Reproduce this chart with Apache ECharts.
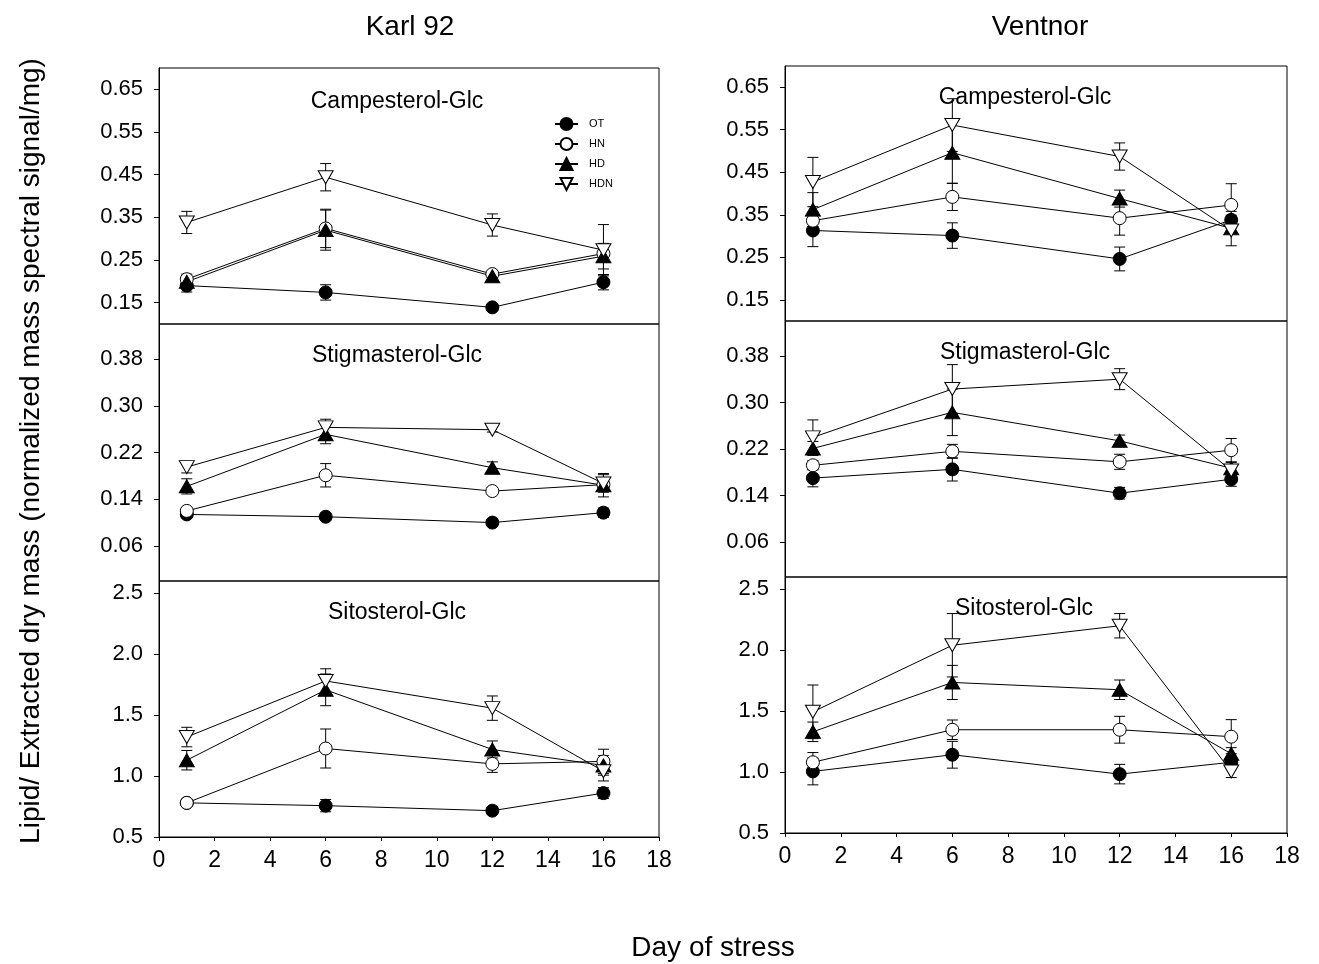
<!DOCTYPE html>
<html>
<head>
<meta charset="utf-8">
<title>Steryl glucosides under stress</title>
<script src="https://cdn.jsdelivr.net/npm/echarts@6/dist/echarts.min.js"></script>
<style>
  html, body { margin: 0; padding: 0; background: #fff; }
  #chart { width: 1319px; height: 964px; }
</style>
</head>
<body>
<div id="chart"></div>
<script>
// ---- data ---------------------------------------------------------------
const days = [1, 6, 12, 16];
const groups = ['OT', 'HN', 'HD', 'HDN'];
const cultivars = ['Karl 92', 'Ventnor'];
const lipids = ['Campesterol-Glc', 'Stigmasterol-Glc', 'Sitosterol-Glc'];

const xTicks = [0, 2, 4, 6, 8, 10, 12, 14, 16, 18];
const campTicks = [0.15, 0.25, 0.35, 0.45, 0.55, 0.65];
const stigTicks = [0.06, 0.14, 0.22, 0.30, 0.38];
const sitoTicks = [0.5, 1.0, 1.5, 2.0, 2.5];

// Karl 92 — Campesterol-Glc (mean, SE)
const campKarlOT = [0.190, 0.174, 0.139, 0.198];
const campKarlOTErr = [0.015, 0.018, 0.006, 0.018];
const campKarlHN = [0.205, 0.324, 0.217, 0.265];
const campKarlHNErr = [0.012, 0.045, 0.008, 0.020];
const campKarlHD = [0.199, 0.320, 0.212, 0.259];
const campKarlHDErr = [0.012, 0.047, 0.010, 0.030];
const campKarlHDN = [0.338, 0.444, 0.332, 0.273];
const campKarlHDNErr = [0.026, 0.032, 0.026, 0.060];

// Ventnor — Campesterol-Glc
const campVentOT = [0.313, 0.301, 0.246, 0.338];
const campVentOTErr = [0.038, 0.030, 0.028, 0.020];
const campVentHN = [0.336, 0.392, 0.342, 0.373];
const campVentHNErr = [0.020, 0.032, 0.040, 0.050];
const campVentHD = [0.362, 0.496, 0.388, 0.318];
const campVentHDErr = [0.040, 0.072, 0.020, 0.012];
const campVentHDN = [0.427, 0.561, 0.487, 0.313];
const campVentHDNErr = [0.058, 0.062, 0.032, 0.036];

// Karl 92 — Stigmasterol-Glc
const stigKarlOT = [0.114, 0.110, 0.100, 0.117];
const stigKarlOTErr = [0.005, 0.006, 0.005, 0.008];
const stigKarlHN = [0.120, 0.181, 0.154, 0.165];
const stigKarlHNErr = [0.006, 0.020, 0.006, 0.010];
const stigKarlHD = [0.162, 0.251, 0.194, 0.164];
const stigKarlHDErr = [0.013, 0.016, 0.010, 0.020];
const stigKarlHDN = [0.195, 0.263, 0.259, 0.167];
const stigKarlHDNErr = [0.010, 0.014, 0.004, 0.015];

// Ventnor — Stigmasterol-Glc
const stigVentOT = [0.170, 0.185, 0.144, 0.168];
const stigVentOTErr = [0.015, 0.020, 0.010, 0.012];
const stigVentHN = [0.192, 0.216, 0.198, 0.218];
const stigVentHNErr = [0.008, 0.012, 0.013, 0.020];
const stigVentHD = [0.221, 0.283, 0.234, 0.187];
const stigVentHDErr = [0.012, 0.040, 0.010, 0.010];
const stigVentHDN = [0.240, 0.323, 0.340, 0.183];
const stigVentHDNErr = [0.030, 0.042, 0.018, 0.010];

// Karl 92 — Sitosterol-Glc
const sitoKarlOT = [0.780, 0.757, 0.716, 0.860];
const sitoKarlOTErr = [0.030, 0.050, 0.030, 0.045];
const sitoKarlHN = [0.780, 1.226, 1.100, 1.120];
const sitoKarlHNErr = [0.020, 0.160, 0.070, 0.100];
const sitoKarlHD = [1.130, 1.707, 1.218, 1.087];
const sitoKarlHDErr = [0.080, 0.130, 0.070, 0.080];
const sitoKarlHDN = [1.320, 1.780, 1.557, 1.040];
const sitoKarlHDNErr = [0.080, 0.100, 0.100, 0.080];

// Ventnor — Sitosterol-Glc
const sitoVentOT = [1.005, 1.142, 0.983, 1.080];
const sitoVentOTErr = [0.110, 0.110, 0.080, 0.030];
const sitoVentHN = [1.080, 1.347, 1.347, 1.290];
const sitoVentHNErr = [0.080, 0.080, 0.110, 0.140];
const sitoVentHD = [1.330, 1.735, 1.675, 1.150];
const sitoVentHDErr = [0.080, 0.140, 0.080, 0.050];
const sitoVentHDN = [1.494, 2.040, 2.200, 1.005];
const sitoVentHDNErr = [0.220, 0.260, 0.100, 0.050];

// ---- layout ----------------------------------------------------------------
const FONT = '"Liberation Sans", Arial, Helvetica, sans-serif';

// one entry per panel: [cultivar, lipid]; frames in px
const panels = [
  { c: 0, l: 0, rect: [159, 68, 500, 256], yMin: 0.10, yMax: 0.70, ticks: campTicks, dec: 2,
    means: [campKarlOT, campKarlHN, campKarlHD, campKarlHDN],
    errs: [campKarlOTErr, campKarlHNErr, campKarlHDErr, campKarlHDNErr], title: [397, 102] },
  { c: 0, l: 1, rect: [159, 324, 500, 257], yMin: 0.00, yMax: 0.44, ticks: stigTicks, dec: 2,
    means: [stigKarlOT, stigKarlHN, stigKarlHD, stigKarlHDN],
    errs: [stigKarlOTErr, stigKarlHNErr, stigKarlHDErr, stigKarlHDNErr], title: [397, 356] },
  { c: 0, l: 2, rect: [159, 581, 500, 256], yMin: 0.5, yMax: 2.6, ticks: sitoTicks, dec: 1,
    means: [sitoKarlOT, sitoKarlHN, sitoKarlHD, sitoKarlHDN],
    errs: [sitoKarlOTErr, sitoKarlHNErr, sitoKarlHDErr, sitoKarlHDNErr], title: [397, 613] },
  { c: 1, l: 0, rect: [785, 66, 502, 255], yMin: 0.10, yMax: 0.70, ticks: campTicks, dec: 2,
    means: [campVentOT, campVentHN, campVentHD, campVentHDN],
    errs: [campVentOTErr, campVentHNErr, campVentHDErr, campVentHDNErr], title: [1025, 98] },
  { c: 1, l: 1, rect: [785, 321, 502, 256], yMin: 0.00, yMax: 0.44, ticks: stigTicks, dec: 2,
    means: [stigVentOT, stigVentHN, stigVentHD, stigVentHDN],
    errs: [stigVentOTErr, stigVentHNErr, stigVentHDErr, stigVentHDNErr], title: [1025, 353] },
  { c: 1, l: 2, rect: [785, 577, 502, 256], yMin: 0.5, yMax: 2.6, ticks: sitoTicks, dec: 1,
    means: [sitoVentOT, sitoVentHN, sitoVentHD, sitoVentHDN],
    errs: [sitoVentOTErr, sitoVentHNErr, sitoVentHDErr, sitoVentHDNErr], title: [1024, 609] }
];

// marker style per treatment
const markers = {
  OT:  { symbol: 'circle',   size: 13,       rotate: 0,   fill: '#000' },
  HN:  { symbol: 'circle',   size: 13,       rotate: 0,   fill: '#fff' },
  HD:  { symbol: 'triangle', size: [15, 13], rotate: 0,   fill: '#000' },
  HDN: { symbol: 'triangle', size: [15, 13], rotate: 180, fill: '#fff' }
};

// vertical error bar with caps
function renderErrorBar(params, api) {
  const x = api.value(0), m = api.value(1), e = api.value(2);
  const hi = api.coord([x, m + e]);
  const lo = api.coord([x, m - e]);
  const w = 5.5;
  const style = { stroke: '#000', lineWidth: 1, fill: null };
  return {
    type: 'group',
    children: [
      { type: 'line', shape: { x1: hi[0], y1: hi[1], x2: lo[0], y2: lo[1] }, style },
      { type: 'line', shape: { x1: hi[0] - w, y1: hi[1], x2: hi[0] + w, y2: hi[1] }, style },
      { type: 'line', shape: { x1: lo[0] - w, y1: lo[1], x2: lo[0] + w, y2: lo[1] }, style }
    ]
  };
}

const grid = [], xAxis = [], yAxis = [], series = [], graphic = [];

panels.forEach((p, i) => {
  const isBottom = p.l === 2;
  grid.push({
    left: p.rect[0], top: p.rect[1], width: p.rect[2], height: p.rect[3],
    show: true, borderColor: '#000', borderWidth: 1, backgroundColor: 'transparent',
    containLabel: false
  });
  xAxis.push({
    gridIndex: i, type: 'value', min: 0, max: 18, interval: 2,
    axisLine: { show: isBottom, onZero: false, lineStyle: { color: '#000', width: 1 } },
    axisTick: { show: isBottom, length: 4, lineStyle: { color: '#000' } },
    axisLabel: { show: isBottom, color: '#000', fontSize: 23, fontFamily: FONT, margin: 12,
                 customValues: xTicks },
    splitLine: { show: false }
  });
  yAxis.push({
    gridIndex: i, type: 'value', min: p.yMin, max: p.yMax,
    axisLine: { show: true, onZero: false, lineStyle: { color: '#000', width: 1 } },
    axisTick: { show: true, length: 5, customValues: p.ticks, lineStyle: { color: '#000' } },
    axisLabel: { color: '#000', fontSize: 22, fontFamily: FONT, margin: 16,
                 customValues: p.ticks, formatter: v => Number(v).toFixed(p.dec) },
    splitLine: { show: false }
  });

  groups.forEach((g, k) => {
    const mk = markers[g];
    series.push({
      type: 'custom', name: g + ' SE', xAxisIndex: i, yAxisIndex: i, z: 1,
      renderItem: renderErrorBar, silent: true,
      encode: { x: 0, y: 1 },
      data: days.map((d, j) => [d, p.means[k][j], p.errs[k][j]])
    });
    series.push({
      type: 'line', name: g, xAxisIndex: i, yAxisIndex: i, z: 3,
      symbol: mk.symbol, symbolSize: mk.size, symbolRotate: mk.rotate,
      showAllSymbol: true,
      lineStyle: { color: '#000', width: 1 },
      itemStyle: { color: mk.fill, borderColor: '#000', borderWidth: 1 },
      emphasis: { disabled: true },
      data: days.map((d, j) => [d, p.means[k][j]])
    });
  });

  graphic.push({
    type: 'text', x: p.title[0], y: p.title[1], z: 5,
    style: { text: lipids[p.l], font: '23px ' + FONT, fill: '#000',
             align: 'center', verticalAlign: 'middle',
             textAlign: 'center', textVerticalAlign: 'middle' }
  });
});

// cultivar headings and shared axis names
[[410, 27, cultivars[0]], [1040, 27, cultivars[1]]].forEach(([x, y, t]) => {
  graphic.push({
    type: 'text', x, y,
    style: { text: t, font: '28px ' + FONT, fill: '#000', align: 'center', verticalAlign: 'middle',
             textAlign: 'center', textVerticalAlign: 'middle' }
  });
});
graphic.push({
  type: 'text', x: 713, y: 948,
  style: { text: 'Day of stress', font: '28px ' + FONT, fill: '#000', align: 'center',
           verticalAlign: 'middle', textAlign: 'center', textVerticalAlign: 'middle' }
});
graphic.push({
  type: 'text', x: 31, y: 451, rotation: Math.PI / 2,
  style: { text: 'Lipid/ Extracted dry mass (normalized mass spectral signal/mg)',
           font: '28px ' + FONT, fill: '#000', align: 'center', verticalAlign: 'middle',
           textAlign: 'center', textVerticalAlign: 'middle' }
});

const chart = echarts.init(document.getElementById('chart'), null, { renderer: 'canvas' });
chart.setOption({
  backgroundColor: '#fff',
  animation: false,
  textStyle: { fontFamily: FONT },
  legend: {
    data: groups, orient: 'vertical', left: 549, top: 112,
    itemWidth: 23, itemHeight: 15, itemGap: 6,
    textStyle: { fontSize: 11, color: '#000', fontFamily: FONT, padding: [0, 0, 0, 6] },
    selectedMode: false
  },
  grid, xAxis, yAxis, series, graphic
});
</script>
</body>
</html>
